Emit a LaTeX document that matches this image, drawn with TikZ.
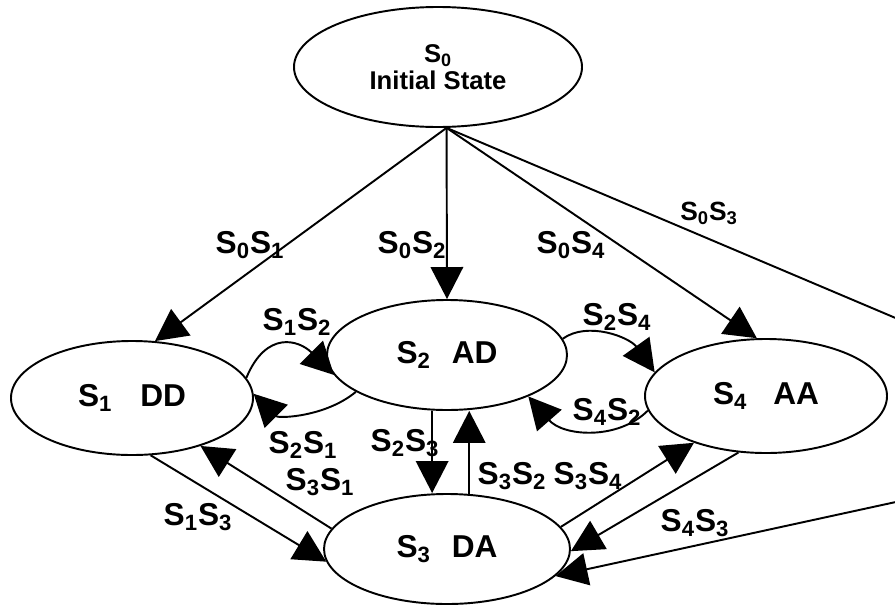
\documentclass[tikz,border=0pt]{standalone}
\usepackage{fontspec}
\setmainfont{Liberation Sans}
\usetikzlibrary{arrows.meta,shapes.geometric}
\newcommand{\Sn}[1]{S\textsubscript{#1}}

\begin{document}
\begin{tikzpicture}[x=0.2mm,y=-0.2mm,
   line width=1.1pt,
   >={Triangle[length=6.4mm,width=6.5mm]},
   state/.style={draw,ellipse,inner sep=0pt,
      font=\fontsize{18}{20}\selectfont\bfseries},
   lbl/.style={inner sep=0pt,font=\fontsize{18}{20}\selectfont\bfseries},
   small lbl/.style={lbl,font=\fontsize{15}{17}\selectfont\bfseries}]

\useasboundingbox (0,0) rectangle (895,607);

\node[state,minimum width=57.6mm,minimum height=24mm,align=center,
      font=\fontsize{14.6}{15}\selectfont\bfseries] (S0) at (438,67) {\Sn{0}\\Initial State};
\node[state,minimum width=48.4mm,minimum height=22.8mm] (S1) at (132,398) {\Sn{1}\hspace{5.6mm}DD};
\node[state,minimum width=48mm,minimum height=22mm] (S2) at (447,355) {\Sn{2}\hspace{4.2mm}AD};
\node[state,minimum width=49.2mm,minimum height=22mm] (S3) at (447,549) {\Sn{3}\hspace{4.2mm}DA};
\node[state,minimum width=48.4mm,minimum height=22.8mm] (S4) at (766,396) {\Sn{4}\hspace{5.2mm}AA};

\coordinate (offA) at (905,322);
\coordinate (offB) at (905,500);

\draw[->] (S0.-82) -- (S1.68);
\draw[->] (S0.-82) -- (S2.north);
\draw[->] (S0.-82) -- (S4.99);
\draw[->] (S0.-82) -- (offA) -- (offB) -- (S3.-14);
\draw[->] (S1.10) .. controls +(20,-48) and +(-35,-35) .. (S2.190);
\draw[->] (S2.202) .. controls +(-30,25) and +(25,25) .. (S1.2);
\draw[->] (S2.8) .. controls +(25,-18) and +(-25,-35) .. (S4.168);
\draw[->] (S4.187) .. controls +(-30,30) and +(35,40) .. (S2.-27);
\draw[->] (S2.-105) -- (S2.-105 |- S3.north);
\draw[->] (S3.68) -- (S3.68 |- S2.south);
\draw[->] (S1.-72) -- (S3.186);
\draw[->] (S3.170) -- (S1.-35);
\draw[->] (S3.11) -- (S4.213);
\draw[->] (S4.244) -- (S3.-1);

\node[lbl] (l01) at (250,245) {\Sn{0}\Sn{1}};
\node[lbl] (l02) at (412,245) {\Sn{0}\Sn{2}};
\node[lbl] (l04) at (571,245) {\Sn{0}\Sn{4}};
\node[small lbl] (l03) at (709,213) {\Sn{0}\Sn{3}};
\node[lbl] (l12) at (297,322) {\Sn{1}\Sn{2}};
\node[lbl] (l21) at (303,445) {\Sn{2}\Sn{1}};
\node[lbl] (l24) at (617,317) {\Sn{2}\Sn{4}};
\node[lbl] (l42) at (607,412) {\Sn{4}\Sn{2}};
\node[lbl] (l23) at (405,443) {\Sn{2}\Sn{3}};
\node[lbl] (l32) at (512,476) {\Sn{3}\Sn{2}};
\node[lbl] (l34) at (588,476) {\Sn{3}\Sn{4}};
\node[lbl] (l31) at (320,482) {\Sn{3}\Sn{1}};
\node[lbl] (l13) at (198,517) {\Sn{1}\Sn{3}};
\node[lbl] (l43) at (695,523) {\Sn{4}\Sn{3}};

\end{tikzpicture}
\end{document}
